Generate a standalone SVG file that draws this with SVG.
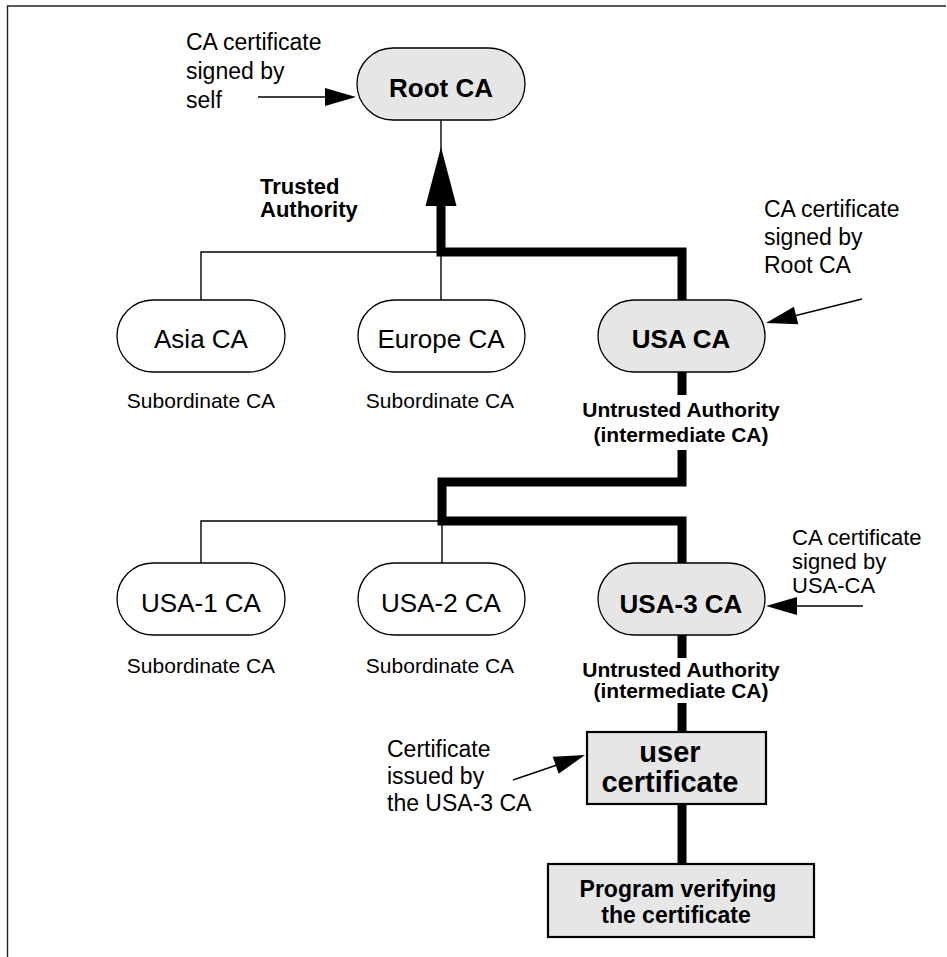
<svg xmlns="http://www.w3.org/2000/svg" width="947" height="957" viewBox="0 0 947 957">
  <style>
    text { font-family: "Liberation Sans", Arial, Helvetica, sans-serif; fill: #000; }
    .node { font-size: 26px; text-anchor: middle; }
    .bold { font-weight: bold; }
    .note { font-size: 23px; }
    .sub { font-size: 21px; text-anchor: middle; }
    .auth { font-size: 21px; font-weight: bold; text-anchor: middle; }
    .pill { stroke: #000; stroke-width: 1.3; }
    .plain { fill: #fff; }
    .shade { fill: #e6e6e6; }
    .box { fill: #e6e6e6; stroke: #000; stroke-width: 2.2; }
    .thin { fill: none; stroke: #000; stroke-width: 1.4; }
    .thick { fill: none; stroke: #000; stroke-width: 9; stroke-linejoin: miter; stroke-linecap: butt; }
    .head { fill: #000; stroke: none; }
  </style>

  <!-- frame -->
  <path d="M7.5,957 V6 H946" fill="none" stroke="#222" stroke-width="1.4"/>

  <!-- connectors -->
  <g id="connectors">
    <!-- root to first tier -->
    <line class="thin" x1="441" y1="120" x2="441" y2="150"/>
    <polygon class="head" points="441,147 425.5,206 456.5,206"/>
    <path class="thick" d="M441,205 V252 H682 V300"/>
    <path class="thin" d="M201,300 V252 H441 V300"/>

    <!-- USA CA to second tier -->
    <path class="thick" d="M682,372 V395"/>
    <path class="thick" d="M682,450 V482 H442 V521 H682 V563"/>
    <path class="thin" d="M201,563 V521 H442 V563"/>

    <!-- USA-3 CA down to the verifying program -->
    <path class="thick" d="M682,635 V658"/>
    <path class="thick" d="M682,703 V732"/>
    <path class="thick" d="M682,804 V864"/>

    <!-- annotation arrows -->
    <line class="thin" x1="258" y1="97" x2="327" y2="97"/>
    <polygon class="head" points="356,97 325,88 325,106"/>

    <line class="thin" x1="862" y1="299" x2="796" y2="315.5"/>
    <polygon class="head" points="766,323 798.3,324.2 793.9,306.8"/>

    <line class="thin" x1="863" y1="606" x2="796" y2="606"/>
    <polygon class="head" points="766,606 797,597 797,615"/>

    <line class="thin" x1="513" y1="780" x2="557" y2="765"/>
    <polygon class="head" points="585,755 558.7,773.7 552.7,756.7"/>
  </g>

  <!-- nodes -->
  <g id="root-ca">
    <rect class="pill shade" x="357" y="48" width="168" height="72" rx="36" ry="36"/>
    <text class="node bold" x="441" y="97">Root CA</text>
  </g>

  <g id="asia-ca">
    <rect class="pill plain" x="117" y="300" width="168" height="72" rx="36" ry="36"/>
    <text class="node" x="201" y="348">Asia CA</text>
    <text class="sub" x="201" y="408">Subordinate CA</text>
  </g>

  <g id="europe-ca">
    <rect class="pill plain" x="358" y="300" width="167" height="72" rx="36" ry="36"/>
    <text class="node" x="441" y="348">Europe CA</text>
    <text class="sub" x="440" y="408">Subordinate CA</text>
  </g>

  <g id="usa-ca">
    <rect class="pill shade" x="598" y="300" width="167" height="72" rx="36" ry="36"/>
    <text class="node bold" x="681" y="348">USA CA</text>
    <text class="auth" x="681" y="417">Untrusted Authority</text>
    <text class="auth" x="681" y="442">(intermediate CA)</text>
  </g>

  <g id="usa-1-ca">
    <rect class="pill plain" x="117" y="563" width="168" height="72" rx="36" ry="36"/>
    <text class="node" x="201" y="612">USA-1 CA</text>
    <text class="sub" x="201" y="673">Subordinate CA</text>
  </g>

  <g id="usa-2-ca">
    <rect class="pill plain" x="358" y="563" width="167" height="72" rx="36" ry="36"/>
    <text class="node" x="441" y="612">USA-2 CA</text>
    <text class="sub" x="440" y="673">Subordinate CA</text>
  </g>

  <g id="usa-3-ca">
    <rect class="pill shade" x="598" y="563" width="167" height="72" rx="36" ry="36"/>
    <text class="node bold" x="681" y="613">USA-3 CA</text>
    <text class="auth" x="681" y="677">Untrusted Authority</text>
    <text class="auth" x="681" y="698">(intermediate CA)</text>
  </g>

  <g id="user-certificate">
    <rect class="box" x="587" y="732" width="179" height="72"/>
    <text class="node bold" x="670" y="762" style="font-size:29px">user</text>
    <text class="node bold" x="670" y="792" style="font-size:29px">certificate</text>
  </g>

  <g id="verifying-program">
    <rect class="box" x="548" y="864" width="266" height="73"/>
    <text class="node bold" x="678" y="897" style="font-size:23px">Program verifying</text>
    <text class="node bold" x="676" y="923" style="font-size:23px">the certificate</text>
  </g>

  <!-- labels -->
  <g id="label-trusted">
    <text class="bold" x="260" y="194" style="font-size:22px">Trusted</text>
    <text class="bold" x="260" y="217" style="font-size:22px">Authority</text>
  </g>

  <g id="note-self-signed">
    <text class="note" x="186" y="50">CA certificate</text>
    <text class="note" x="186" y="79">signed by</text>
    <text class="note" x="186" y="108">self</text>
  </g>

  <g id="note-root-signed">
    <text class="note" x="764" y="217">CA certificate</text>
    <text class="note" x="764" y="245">signed by</text>
    <text class="note" x="764" y="273">Root CA</text>
  </g>

  <g id="note-usa-signed">
    <text class="note" x="792" y="545" style="font-size:22px">CA certificate</text>
    <text class="note" x="792" y="569" style="font-size:22px">signed by</text>
    <text class="note" x="792" y="593" style="font-size:22px">USA-CA</text>
  </g>

  <g id="note-issued">
    <text class="note" x="387" y="757">Certificate</text>
    <text class="note" x="387" y="784">issued by</text>
    <text class="note" x="387" y="811">the USA-3 CA</text>
  </g>
</svg>
